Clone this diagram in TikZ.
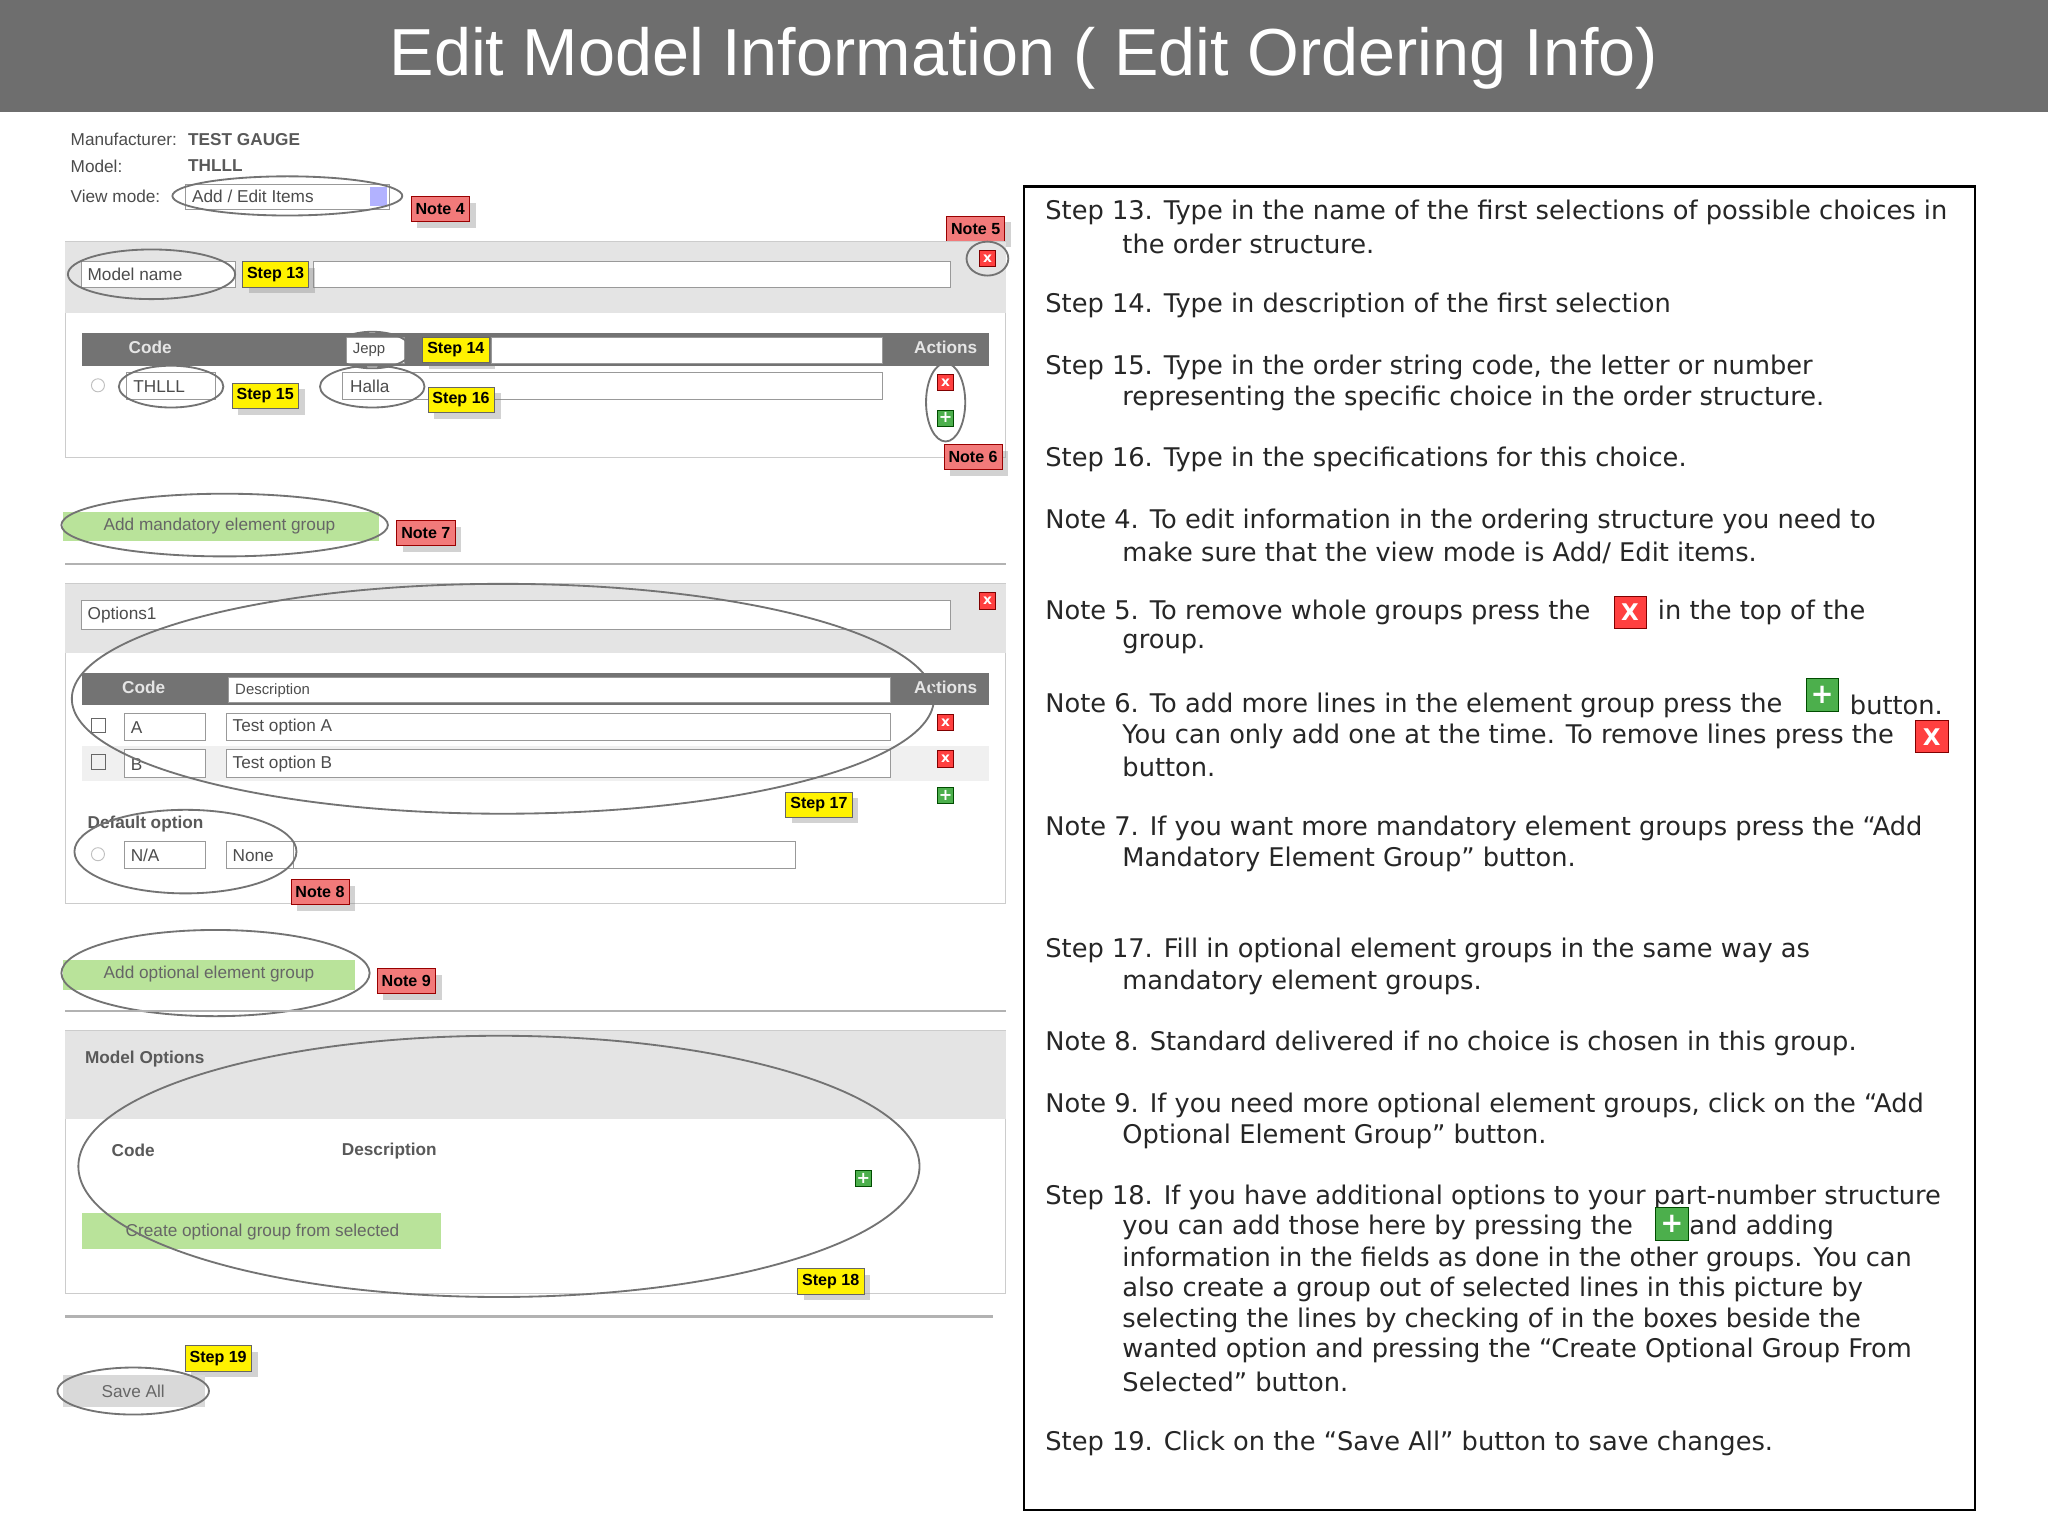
\documentclass[tikz,border=0pt]{standalone}
\usepackage{fontspec}
\setmainfont{DejaVu Sans}
\newfontfamily\lib{Liberation Sans}
\usetikzlibrary{shadows}
\definecolor{notered}{HTML}{F27A7A}
\definecolor{stepyel}{HTML}{FFF200}
\definecolor{hdr}{HTML}{6E6E6E}
\definecolor{pan}{HTML}{E4E4E4}
\definecolor{btn}{HTML}{B9E39A}
\begin{document}
\begin{tikzpicture}[x=0.02cm,y=-0.02cm,
 note/.style={fill=notered,draw=red!60!black,line width=0.3pt,font=\lib\bfseries\fontsize{7}{8}\selectfont,inner sep=2pt,minimum height=11pt,drop shadow={opacity=0.35}},
 stp/.style={note,fill=stepyel,draw=black!60},
 fld/.style={draw=black!40,fill=white,line width=0.4pt},
 ell/.style={draw=black!55,line width=0.8pt},
 ui/.style={font=\lib\fontsize{7.5}{9}\selectfont,text=black!70,inner sep=1pt},
 uib/.style={font=\lib\bfseries\fontsize{7.5}{9}\selectfont,text=black!65,inner sep=1pt},
 rt/.style={anchor=west,inner sep=0pt,font=\fontsize{11.2}{13}\selectfont,text=black!85},
 redx/.style={fill=red!75,draw=red!50!black,line width=0.3pt,minimum size=7pt,inner sep=0pt,text=white,font=\bfseries\fontsize{6}{6}\selectfont},
 grn/.style={fill=green!55!black!70,draw=green!30!black,line width=0.3pt,minimum size=7pt,inner sep=0pt,text=white,font=\bfseries\fontsize{7}{7}\selectfont},
 sep/.style={draw=black!30,line width=1pt}]
\useasboundingbox (0,0) rectangle (1568,1176);
\fill[white] (0,0) rectangle (1568,1176);
\fill[hdr] (0,0) rectangle (1568,86);
\node[text=white,font=\lib\fontsize{29}{32}\selectfont] (title) at (784,45) {Edit Model Information ( Edit Ordering Info)};
% header info
\node[ui,anchor=west] (m1) at (52,107) {Manufacturer:};
\node[uib,anchor=west] (m2) at (142,107) {TEST GAUGE};
\node[ui,anchor=west] (m3) at (52,127) {Model:};
\node[uib,anchor=west] (m4) at (142,127) {THLLL};
\node[ui,anchor=west] (m5) at (52,150) {View mode:};
\draw[fld] (142,141) rectangle (298,160);
\node[ui,anchor=west] (vm) at (145,150) {Add / Edit Items};
\fill[blue!30] (283,143) rectangle (296,158);
\draw[ell] (220,150) ellipse (88 and 15);
\node[note] (n4) at (337,160) {Note 4};
\node[note] (n5) at (747,175) {Note 5};
% panel 1
\draw[fill=white,draw=black!20] (50,185) rectangle (770,350);
\fill[pan] (50,185) rectangle (770,240);
\draw[fld] (62,200) rectangle (180,220);
\node[ui,anchor=west] (mn) at (65,210) {Model name};
\draw[ell] (116,210) ellipse (64 and 19);
\draw[fld] (240,200) rectangle (728,220);
\node[stp] (s13) at (211,210) {Step 13};
\node[redx] (x1) at (756,198) {x};
\draw[ell] (756,198) ellipse (16 and 13);
\fill[black!55] (63,255) rectangle (757,280);
\node[font=\lib\bfseries\fontsize{7.5}{9}\selectfont,text=white!90!black] (c1) at (115,266) {Code};
\node[font=\lib\bfseries\fontsize{7.5}{9}\selectfont,text=white!90!black] (a1) at (724,266) {Actions};
\draw[fld] (265,258) rectangle (310,278);
\node[ui,anchor=west,font=\lib\fontsize{6.5}{8}\selectfont] (jp) at (268,268) {Jepp};
\draw[ell] (285,268) ellipse (30 and 14);
\node[stp] (s14) at (349,268) {Step 14};
\draw[fld] (376,258) rectangle (676,278);
\draw[black!25] (75,295) circle (5);
\draw[fld] (97,285) rectangle (165,306);
\node[ui,anchor=west] (th) at (100,296) {THLLL};
\draw[ell] (131,296) ellipse (40 and 16);
\node[stp] (s15) at (203,303) {Step 15};
\draw[fld] (262,285) rectangle (676,306);
\node[ui,anchor=west] (ha) at (266,296) {Halla};
\draw[ell] (285,296) ellipse (40 and 16);
\node[stp] (s16) at (353,306) {Step 16};
\node[redx] (x2) at (724,293) {x};
\node[grn] (g1) at (724,320) {+};
\draw[ell] (724,308) ellipse (15 and 30);
\node[note] (n6) at (745,350) {Note 6};
% mandatory
\fill[btn] (48,392) rectangle (290,414);
\node[ui,text=black!60] (am) at (168,403) {Add mandatory element group};
\draw[ell] (172,402) ellipse (125 and 24);
\node[note] (n7) at (326,408) {Note 7};
\draw[sep] (50,432) -- (770,432);
% panel 2
\draw[fill=white,draw=black!20] (50,447) rectangle (770,692);
\fill[pan] (50,447) rectangle (770,500);
\draw[fld] (62,460) rectangle (728,482);
\node[ui,anchor=west] (op) at (65,471) {Options1};
\node[redx] (x3) at (756,460) {x};
\fill[black!55] (63,515) rectangle (757,540);
\node[font=\lib\bfseries\fontsize{7.5}{9}\selectfont,text=white!90!black] (c2) at (110,526) {Code};
\draw[fld] (175,519) rectangle (682,538);
\node[ui,anchor=west,font=\lib\fontsize{6.5}{8}\selectfont] (de) at (178,529) {Description};
\node[font=\lib\bfseries\fontsize{7.5}{9}\selectfont,text=white!90!black] (a2) at (724,526) {Actions};
\fill[black!6] (63,571) rectangle (757,598);
\draw[black!60] (70,550) rectangle (81,561);
\draw[fld] (95,546) rectangle (157,567);
\node[ui,anchor=west] (ra) at (98,557) {A};
\draw[fld] (173,546) rectangle (682,567);
\node[ui,anchor=west] (ta) at (176,557) {Test option A};
\node[redx] (x4) at (724,553) {x};
\draw[black!60] (70,578) rectangle (81,589);
\draw[fld] (95,574) rectangle (157,595);
\node[ui,anchor=west] (rb) at (98,585) {B};
\draw[fld] (173,574) rectangle (682,595);
\node[ui,anchor=west] (tb) at (176,585) {Test option B};
\node[redx] (x5) at (724,581) {x};
\node[grn] (g2) at (724,609) {+};
\node[stp] (s17) at (627,616) {Step 17};
\draw[ell] (385,535) ellipse (330 and 88);
\node[uib,anchor=west] (dop) at (65,631) {Default option};
\draw[black!25] (75,654) circle (5);
\draw[fld] (95,644) rectangle (157,665);
\node[ui,anchor=west] (na) at (98,655) {N/A};
\draw[fld] (173,644) rectangle (609,665);
\draw[black!40] (225,644) -- (225,665);
\node[ui,anchor=west] (no) at (176,655) {None};
\draw[ell] (142,652) ellipse (85 and 32);
\node[note] (n8) at (245,683) {Note 8};
% optional
\fill[btn] (48,735) rectangle (272,758);
\node[ui,text=black!60] (ao) at (160,746) {Add optional element group};
\draw[ell] (165,745) ellipse (118 and 33);
\node[note] (n9) at (311,751) {Note 9};
\draw[sep] (50,774) -- (770,774);
% panel 3
\draw[fill=white,draw=black!20] (50,789) rectangle (770,990);
\fill[pan] (50,789) rectangle (770,857);
\node[uib,anchor=west] (mo) at (63,811) {Model Options};
\node[uib] (c3) at (102,881) {Code};
\node[uib] (d3) at (298,881) {Description};
\node[grn] (g3) at (661,902) {+};
\fill[btn] (63,929) rectangle (338,956);
\node[ui,text=black!60] (co) at (201,943) {Create optional group from selected};
\draw[ell] (382,893) ellipse (322 and 100);
\node[stp] (s18) at (636,981) {Step 18};
\draw[sep] (50,1008) -- (760,1008);
\node[stp] (s19) at (167,1040) {Step 19};
\fill[black!15] (48,1053) rectangle (157,1077);
\node[ui,text=black!60] (sa) at (102,1065) {Save All};
\draw[ell] (102,1065) ellipse (58 and 18);
% right box
\draw[black,line width=1.2pt] (784,143) rectangle (1512,1156);
\node[rt] (r1) at (800,163) {Step 13. Type in the name of the first selections of possible choices in};
\node[rt] (r2) at (859,187) {the order structure.};
\node[rt] (r3) at (800,234) {Step 14. Type in description of the first selection};
\node[rt] (r4) at (800,281) {Step 15. Type in the order string code, the letter or number};
\node[rt] (r5) at (859,305) {representing the specific choice in the order structure.};
\node[rt] (r6) at (800,352) {Step 16. Type in the specifications for this choice.};
\node[rt] (r7) at (800,399) {Note 4. To edit information in the ordering structure you need to};
\node[rt] (r8) at (859,423) {make sure that the view mode is Add/ Edit items.};
\node[rt] (r9) at (800,469) {Note 5. To remove whole groups press the};
\node[redx,minimum size=14pt,font=\bfseries\fontsize{10}{10}\selectfont] (ix1) at (1248,469) {X};
\node[rt] (r9b) at (1269,469) {in the top of the};
\node[rt] (r10) at (859,493) {group.};
\node[rt] (r11) at (800,540) {Note 6. To add more lines in the element group press the};
\node[grn,minimum size=14pt,font=\bfseries\fontsize{12}{12}\selectfont] (ig1) at (1395,532) {+};
\node[rt] (r11b) at (1416,540) {button.};
\node[rt] (r12) at (859,564) {You can only add one at the time. To remove lines press the};
\node[redx,minimum size=14pt,font=\bfseries\fontsize{10}{10}\selectfont] (ix2) at (1479,564) {X};
\node[rt] (r13) at (859,587) {button.};
\node[rt] (r14) at (800,634) {Note 7. If you want more mandatory element groups press the “Add};
\node[rt] (r15) at (859,658) {Mandatory Element Group” button.};
\node[rt] (r16) at (800,728) {Step 17. Fill in optional element groups in the same way as};
\node[rt] (r17) at (859,752) {mandatory element groups.};
\node[rt] (r18) at (800,799) {Note 8. Standard delivered if no choice is chosen in this group.};
\node[rt] (r19) at (800,846) {Note 9. If you need more optional element groups, click on the “Add};
\node[rt] (r20) at (859,870) {Optional Element Group” button.};
\node[rt] (r21) at (800,917) {Step 18. If you have additional options to your part-number structure};
\node[rt] (r22) at (859,940) {you can add those here by pressing the};
\node[grn,minimum size=14pt,font=\bfseries\fontsize{12}{12}\selectfont] (ig2) at (1280,937) {+};
\node[rt] (r22b) at (1293,940) {and adding};
\node[rt] (r23) at (859,964) {information in the fields as done in the other groups. You can};
\node[rt] (r24) at (859,987) {also create a group out of selected lines in this picture by};
\node[rt] (r25) at (859,1011) {selecting the lines by checking of in the boxes beside the};
\node[rt] (r26) at (859,1034) {wanted option and pressing the “Create Optional Group From};
\node[rt] (r27) at (859,1058) {Selected” button.};
\node[rt] (r28) at (800,1105) {Step 19. Click on the “Save All” button to save changes.};
\end{tikzpicture}
\end{document}
